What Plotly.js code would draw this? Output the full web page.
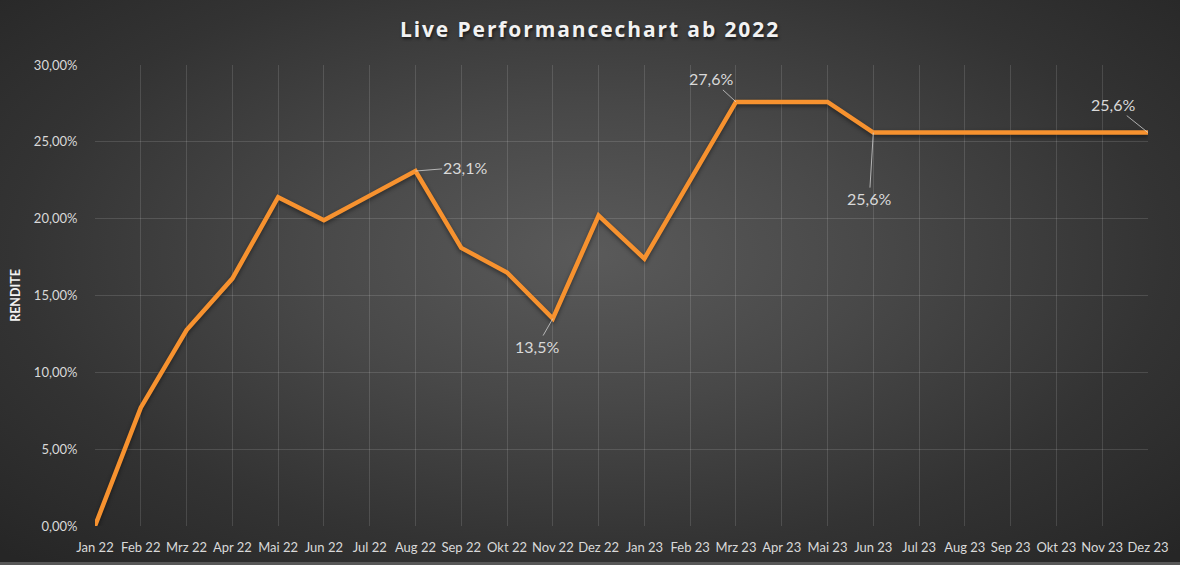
<!DOCTYPE html>
<html>
<head>
<meta charset="utf-8">
<script src="https://cdn.plot.ly/plotly-3.0.1.min.js"></script>
<style>
  html, body { margin: 0; padding: 0; width: 1180px; height: 565px; overflow: hidden; background: #262626; }
  #chart {
    width: 1180px; height: 565px;
    background: radial-gradient(ellipse 70% 75% at 50% 45%, #5a5a5a 0%, #484848 35%, #333333 70%, #262626 100%);
    box-shadow: inset 0 -3px 0 #575757;
  }
  #chart .gtitle { letter-spacing: 1.9px; text-shadow: 1px 2px 3px rgba(0,0,0,0.6); }
  #chart .scatterlayer .js-line { filter: drop-shadow(0px 2px 2px rgba(0,0,0,0.45)); }
</style>
</head>
<body>
<div id="chart"></div>
<script>
const months = ["Jan 22","Feb 22","Mrz 22","Apr 22","Mai 22","Jun 22","Jul 22","Aug 22","Sep 22","Okt 22","Nov 22","Dez 22",
                "Jan 23","Feb 23","Mrz 23","Apr 23","Mai 23","Jun 23","Jul 23","Aug 23","Sep 23","Okt 23","Nov 23","Dez 23"];
const rendite = [0, 7.7, 12.75, 16.1, 21.4, 19.9, 21.5, 23.1, 18.1, 16.5, 13.5, 20.2,
                 17.4, 22.5, 27.6, 27.6, 27.6, 25.6, 25.6, 25.6, 25.6, 25.6, 25.6, 25.6];
const labelled = [
  {i: 7,  text: "23,1%", ax: 50, ay: -4},
  {i: 10, text: "13,5%", ax: -16, ay: 28},
  {i: 14, text: "27,6%", ax: -25, ay: -23},
  {i: 17, text: "25,6%", ax: -4, ay: 66},
  {i: 23, text: "25,6%", ax: -35, ay: -28}
];

const font = "Lato, 'Open Sans', sans-serif";

const traces = [
  { x: months, y: rendite, type: "scatter", mode: "lines",
    line: {color: "#f7922f", width: 4.5}, showlegend: false }
];

const layout = {
  width: 1180, height: 565,
  paper_bgcolor: "rgba(0,0,0,0)", plot_bgcolor: "rgba(0,0,0,0)",
  margin: {l: 95, r: 32, t: 65, b: 39},
  separators: ", ",
  font: {family: font, color: "#d9d9d9"},
  title: {text: "<b>Live Performancechart ab 2022</b>", x: 0.5, xanchor: "center", y: 0.947, yanchor: "middle",
          font: {family: "'Open Sans', sans-serif", size: 21, color: "#f2f2f2"}},
  xaxis: {type: "category", range: [0, 23], showgrid: true, gridcolor: "rgba(255,255,255,0.13)", gridwidth: 1,
          showline: false, zeroline: false, ticks: "outside", ticklen: 9, tickcolor: "rgba(0,0,0,0)",
          tickfont: {family: font, size: 13, color: "#d9d9d9"}, fixedrange: true},
  yaxis: {range: [0, 30], dtick: 5, tick0: 0, tickformat: ".2f", ticksuffix: "%",
          showgrid: true, gridcolor: "rgba(255,255,255,0.13)", gridwidth: 1, zeroline: false, showline: false,
          ticks: "outside", ticklen: 14, tickcolor: "rgba(0,0,0,0)",
          tickfont: {family: font, size: 13, color: "#d9d9d9"},
          title: {text: "<b>RENDITE</b>", standoff: 10, font: {family: font, size: 12.5, color: "#f2f2f2"}}},
  annotations: labelled.map(a => ({
    x: months[a.i], y: rendite[a.i], xref: "x", yref: "y", text: a.text,
    showarrow: true, arrowhead: 0, arrowwidth: 1, arrowcolor: "rgba(217,217,217,0.75)",
    ax: a.ax, ay: a.ay, standoff: 0,
    font: {family: font, size: 16, color: "#d9d9d9"}
  }))
};

Plotly.newPlot("chart", traces, layout, {displayModeBar: false, staticPlot: true});
</script>
</body>
</html>
